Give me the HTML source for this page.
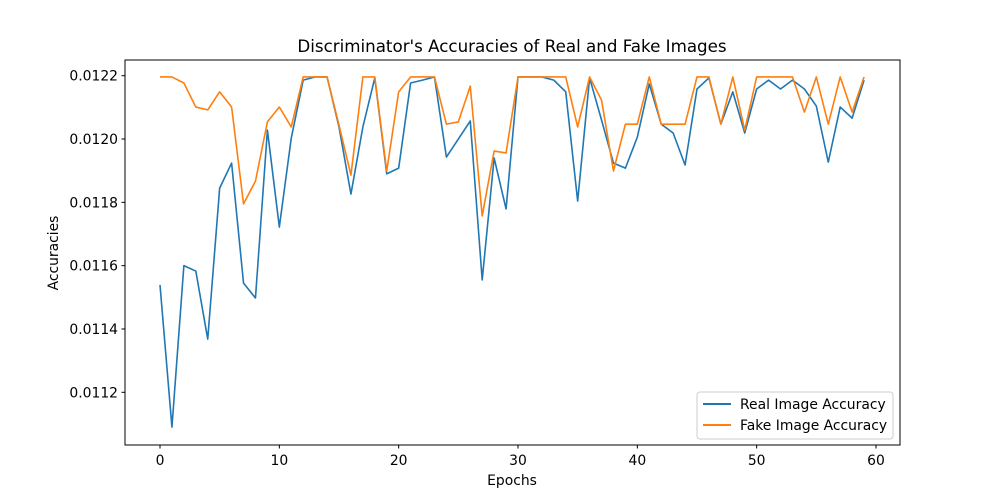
<!DOCTYPE html>
<html><head><meta charset="utf-8"><style>
body{margin:0;background:#fff;}
svg{display:block;font-family:"DejaVu Sans","Liberation Sans",sans-serif;}
</style></head><body>
<svg id="chart" width="1000" height="500">
<text x="512" y="52" text-anchor="middle" font-size="16.7">Discriminator's Accuracies of Real and Fake Images</text>
<g id="xt"></g>
<g id="yt"></g>
<text x="512" y="485" text-anchor="middle" font-size="13.9">Epochs</text>
<text x="58" y="253" text-anchor="middle" font-size="13.9" transform="rotate(-90 58 253)">Accuracies</text>
<g id="series"></g>
<rect x="125" y="60" width="775" height="385" fill="none" stroke="#000" stroke-width="1"/>
<g>
<rect x="697" y="392" width="196" height="47" rx="3" fill="#fff" fill-opacity="0.8" stroke="#ccc"/>
<line x1="703" y1="404" x2="731" y2="404" stroke="#1f77b4" stroke-width="2"/>
<text x="740" y="409" font-size="13.9">Real Image Accuracy</text>
<line x1="703" y1="425" x2="731" y2="425" stroke="#ff7f0e" stroke-width="2"/>
<text x="740" y="430" font-size="13.9">Fake Image Accuracy</text>
</g>
</svg>
<script>
const realAcc=[0.011539,0.011090,0.011600,0.011583,0.011368,0.011845,0.011924,0.011545,0.011498,0.012028,
0.011722,0.012003,0.012186,0.012196,0.012196,0.012038,0.011826,0.012038,0.012193,0.011890,
0.011908,0.012177,0.012186,0.012196,0.011943,0.012000,0.012057,0.011555,0.011940,0.011779,
0.012196,0.012196,0.012196,0.012186,0.012149,0.011804,0.012193,0.012060,0.011924,0.011908,
0.012006,0.012174,0.012047,0.012019,0.011918,0.012158,0.012193,0.012047,0.012149,0.012019,
0.012158,0.012186,0.012158,0.012186,0.012158,0.012104,0.011927,0.012101,0.012066,0.012186];
const fakeAcc=[0.012196,0.012196,0.012177,0.012101,0.012092,0.012149,0.012101,0.011795,0.011867,0.012054,
0.012101,0.012038,0.012196,0.012196,0.012196,0.012044,0.011886,0.012196,0.012196,0.011899,
0.012149,0.012196,0.012196,0.012196,0.012047,0.012054,0.012167,0.011757,0.011962,0.011956,
0.012196,0.012196,0.012196,0.012196,0.012196,0.012038,0.012196,0.012123,0.011899,0.012047,
0.012047,0.012196,0.012047,0.012047,0.012047,0.012196,0.012196,0.012047,0.012196,0.012028,
0.012196,0.012196,0.012196,0.012196,0.012085,0.012196,0.012047,0.012196,0.012085,0.012196];
const xTicks=[0,10,20,30,40,50,60];
const yTicks=[0.0112,0.0114,0.0116,0.0118,0.0120,0.0122];
const yTickLabels=["0.0112","0.0114","0.0116","0.0118","0.0120","0.0122"];
const NS="http://www.w3.org/2000/svg";
function xs(e){return 160+e*(876-160)/60;}
function ys(v){return 75.7+(0.0122-v)*316600;}
function mk(t,a,p){const el=document.createElementNS(NS,t);for(const k in a)el.setAttribute(k,a[k]);p.appendChild(el);return el;}
const xt=document.getElementById('xt'),yt=document.getElementById('yt'),sg=document.getElementById('series');
xTicks.forEach(t=>{
 const l=mk('line',{x1:xs(t),x2:xs(t),y1:445,y2:448.5,stroke:'#000'},xt);
 
 
 const tx=mk('text',{x:xs(t),y:465,'text-anchor':'middle','font-size':13.9},xt);
 tx.textContent=t;
 
 
});
yTicks.forEach((t,i)=>{
 const l=mk('line',{x1:121.5,x2:125,y1:ys(t),y2:ys(t),stroke:'#000'},yt);
 
 
 const tx=mk('text',{x:118,y:ys(t)+5,'text-anchor':'end','font-size':13.9},yt);
 tx.textContent=yTickLabels[i];
 
 
});
function line(arr,color,name){
 const p=mk('polyline',{points:arr.map((v,i)=>xs(i)+','+ys(v)).join(' '),fill:'none',stroke:color,'stroke-width':1.6,'stroke-linejoin':'round'},sg);
 
 
}
line(realAcc,'#1f77b4','real-accuracy-line');
line(fakeAcc,'#ff7f0e','fake-accuracy-line');
</script>
</body></html>
